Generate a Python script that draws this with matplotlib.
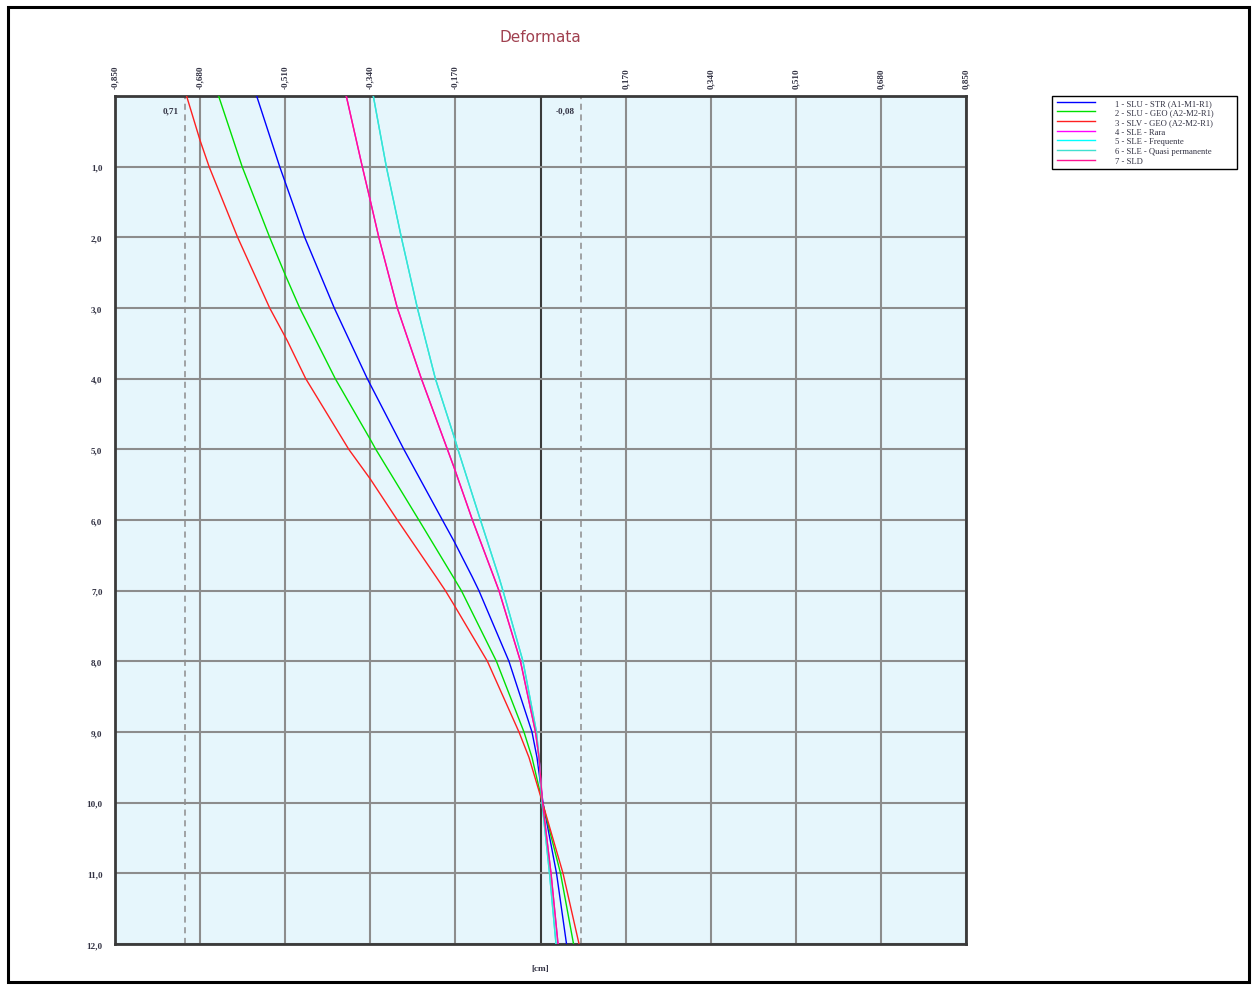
import matplotlib
matplotlib.use("Agg")
import matplotlib.pyplot as plt
from matplotlib.patches import Rectangle

# ---- data (depth [m] vs horizontal displacement [cm]) ----
d1 = [0, 1, 2, 3, 4, 5, 6, 6.31, 6.81, 7, 8, 9, 9.36, 10, 11, 12]
s1_slu_str = [-0.567, -0.521, -0.471, -0.412, -0.346, -0.273, -0.196, -0.172, -0.136, -0.123,
              -0.063, -0.017, -0.007, 0.005, 0.032, 0.052]

d2 = [0, 1, 2, 2.53, 3, 4, 4.86, 5, 6, 6.81, 7, 8, 9, 9.36, 10, 11, 12]
s2_slu_geo = [-0.643, -0.596, -0.541, -0.510, -0.481, -0.410, -0.340, -0.329, -0.243, -0.174,
              -0.158, -0.088, -0.033, -0.017, 0.004, 0.040, 0.066]

d3 = [0, 0.63, 1, 2, 3, 3.46, 4, 5, 5.42, 6, 6.81, 7, 7.21, 8, 9, 9.36, 10, 11, 12]
s3_slv_geo = [-0.707, -0.680, -0.662, -0.605, -0.541, -0.506, -0.469, -0.383, -0.340, -0.286,
              -0.208, -0.190, -0.172, -0.106, -0.043, -0.023, 0.004, 0.045, 0.077]

d4 = [0, 1, 1.48, 2, 3, 4, 5, 5.27, 6, 6.81, 7, 8, 9, 9.36, 10, 11, 12]
s4_sle_rara = [-0.388, -0.356, -0.340, -0.323, -0.286, -0.238, -0.186, -0.172, -0.136, -0.093,
               -0.083, -0.040, -0.010, -0.003, 0.004, 0.021, 0.035]

d5 = [0, 1, 2, 3, 4, 4.88, 5, 6, 6.81, 7, 8, 9, 9.36, 10, 11, 12]
s5_sle_freq = [-0.334, -0.308, -0.278, -0.246, -0.210, -0.170, -0.165, -0.120, -0.083, -0.075,
               -0.035, -0.008, -0.003, 0.003, 0.018, 0.031]

d6 = [0, 1, 2, 3, 4, 4.88, 5, 6, 6.81, 7, 8, 9, 9.36, 10, 11, 12]
s6_sle_qp = [-0.334, -0.308, -0.278, -0.246, -0.210, -0.170, -0.165, -0.120, -0.083, -0.075,
             -0.035, -0.008, -0.003, 0.003, 0.018, 0.031]

d7 = [0, 1, 1.48, 2, 3, 4, 5, 5.27, 6, 6.81, 7, 8, 9, 9.36, 10, 11, 12]
s7_sld = [-0.388, -0.356, -0.340, -0.323, -0.286, -0.238, -0.186, -0.172, -0.136, -0.093,
          -0.083, -0.040, -0.010, -0.003, 0.004, 0.021, 0.035]

series_labels = ["1 - SLU - STR (A1-M1-R1)", "2 - SLU - GEO (A2-M2-R1)", "3 - SLV - GEO (A2-M2-R1)",
                 "4 - SLE - Rara", "5 - SLE - Frequente", "6 - SLE - Quasi permanente", "7 - SLD"]
series_colors = ["#0000FF", "#00E000", "#FF2020", "#FF00FF", "#00FFFF", "#40E0D0", "#FF1493"]

x_ticks = [-0.85, -0.68, -0.51, -0.34, -0.17, 0.0, 0.17, 0.34, 0.51, 0.68, 0.85]
x_tick_labels = ["-0,850", "-0,680", "-0,510", "-0,340", "-0,170", "", "0,170", "0,340", "0,510", "0,680", "0,850"]
y_ticks = list(range(0, 13))
y_tick_labels = [""] + [f"{v},0" for v in range(1, 13)]

min_val = -0.71
max_val = 0.08
min_label = "0,71"
max_label = "-0,08"

# ---- figure ----
W, H = 1255, 987
TXT = "#333344"
SMALL = dict(family="Liberation Serif", size=6.6, weight="bold")
fig = plt.figure(figsize=(W / 100, H / 100), dpi=100)
fig.patches.append(Rectangle((8 / W, 4 / H), (1249 - 8) / W, (983 - 8) / H,
                             transform=fig.transFigure, fill=False, edgecolor="black", linewidth=2.2))

ax = fig.add_axes([115 / W, 1 - 945 / H, (966 - 115) / W, (945 - 97) / H])
ax.set_facecolor("#E6F6FC")
ax.set_xlim(-0.85, 0.85)
ax.set_ylim(12, 0)

for xv in x_ticks:
    ax.axvline(xv, color="#3a3a3a" if xv == 0 else "#8C8C8C", lw=1.5, zorder=1)
for yv in y_ticks:
    ax.axhline(yv, color="#8C8C8C", lw=1.5, zorder=1)

ax.axvline(min_val, color="#8C8C8C", lw=1.1, ls=(0, (4, 3)), zorder=1)
ax.axvline(max_val, color="#8C8C8C", lw=1.1, ls=(0, (4, 3)), zorder=1)
ax.text(min_val - 0.012, 0.2, min_label, ha="right", va="center", color=TXT, **SMALL)
ax.text(max_val - 0.012, 0.2, max_label, ha="right", va="center", color=TXT, **SMALL)

all_depths = [d1, d2, d3, d4, d5, d6, d7]
all_series = [s1_slu_str, s2_slu_geo, s3_slv_geo, s4_sle_rara, s5_sle_freq, s6_sle_qp, s7_sld]
for dd, vals, lab, col in zip(all_depths, all_series, series_labels, series_colors):
    ax.plot(vals, dd, color=col, lw=1.0, label=lab, zorder=3)

ax.xaxis.tick_top()
ax.set_xticks(x_ticks)
ax.set_xticklabels(x_tick_labels, rotation=90, color=TXT, **SMALL)
ax.set_yticks(y_ticks)
ax.set_yticklabels(y_tick_labels, color=TXT, **SMALL)
ax.tick_params(length=0)
ax.tick_params(axis="x", pad=6)
ax.tick_params(axis="y", pad=9)
for sp in ax.spines.values():
    sp.set_color("#3a3a3a")
    sp.set_linewidth(2)

fig.text(540 / W, 1 - 38 / H, "Deformata", ha="center", va="center", fontsize=11, color="#A0404F")
fig.text(540 / W, 1 - 969 / H, "[cm]", ha="center", va="center", color=TXT, **SMALL)

# legend with a fixed box
fig.patches.append(Rectangle((1052 / W, 1 - 170 / H), (1237 - 1052) / W, (170 - 97) / H,
                             transform=fig.transFigure, fill=False,
                             edgecolor="black", linewidth=1.0))
leg = ax.legend(loc="upper left", bbox_to_anchor=(1055 / W, 1 - 98 / H), bbox_transform=fig.transFigure,
                prop=dict(family="Liberation Serif", size=6.2), frameon=False,
                handlelength=4.4, labelspacing=0.19, borderpad=0.2, handletextpad=2.4, borderaxespad=0)
for t in leg.get_texts():
    t.set_color(TXT)

fig.savefig("out.png", dpi=100)
